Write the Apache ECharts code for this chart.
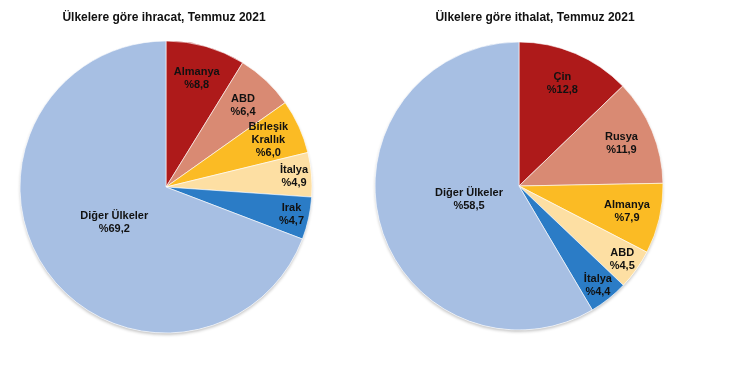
<!DOCTYPE html>
<html>
<head>
<meta charset="utf-8">
<script src="https://cdn.jsdelivr.net/npm/echarts@6/dist/echarts.min.js"></script>
<style>
    html, body {margin: 0; padding: 0; background: #fff;}
    #chart {width: 730px; height: 378px;}
</style>
</head>
<body>
<div id="chart"></div>
<script>
// ihracat (export) shares, July 2021
var exportNames = ['Almanya', 'ABD', 'Birleşik\nKrallık', 'İtalya', 'Irak', 'Diğer Ülkeler'];
var exportValues = [8.8, 6.4, 6.0, 4.9, 4.7, 69.2];
var exportColors = ['#ae1a1a', '#d98a73', '#fbbb24', '#fddfa3', '#2b7cc6', '#a7bfe3'];

// ithalat (import) shares, July 2021
var importNames = ['Çin', 'Rusya', 'Almanya', 'ABD', 'İtalya', 'Diğer Ülkeler'];
var importValues = [12.8, 11.9, 7.9, 4.5, 4.4, 58.5];
var importColors = ['#ae1a1a', '#d98a73', '#fbbb24', '#fddfa3', '#2b7cc6', '#a7bfe3'];

var labelFont = {
    color: '#111',
    fontFamily: 'Liberation Sans, Arial, sans-serif',
    fontWeight: 'bold',
    fontSize: 11,
    lineHeight: 13
};

function fmt(p) {
    return p.name + '\n%' + p.value.toFixed(1).replace('.', ',');
}

// invisible pie whose outer edge is where the labels go
function labelLayer(names, values, center, r, pick) {
    return {
        type: 'pie',
        center: center,
        radius: [0, r],
        startAngle: 90,
        clockwise: true,
        avoidLabelOverlap: false,
        silent: true,
        itemStyle: {color: 'transparent'},
        label: Object.assign({
            show: true, position: 'outside', alignTo: 'none',
            distanceToLabelLine: 0, formatter: fmt
        }, labelFont),
        labelLine: {show: false, length: 0, length2: 0},
        labelLayout: {align: 'center', verticalAlign: 'middle', hideOverlap: false},
        data: names.map(function (n, i) {
            return {name: n, value: values[i], label: {show: pick(i, values[i])}};
        })
    };
}

function makePie(names, values, colors, center, R, bigR) {
    var last = names.length - 1;
    var base = {
        type: 'pie',
        center: center,
        radius: [0, R],
        startAngle: 90,
        clockwise: true,
        silent: true,
        label: {show: false},
        labelLine: {show: false}
    };
    // soft drop shadow under the whole disc
    var shadow = Object.assign({}, base, {
        itemStyle: {
            color: '#fff',
            shadowColor: 'rgba(0,0,0,0.22)',
            shadowBlur: 3,
            shadowOffsetY: 2
        },
        data: values.map(function (v) { return {value: v}; })
    });
    var pie = Object.assign({}, base, {
        itemStyle: {borderColor: '#fff', borderWidth: 0.6},
        data: names.map(function (n, i) {
            return {name: n, value: values[i], itemStyle: {color: colors[i]}};
        })
    });
    return [
        shadow,
        pie,
        // wider slices keep their label a bit further in, narrow ones near the rim
        labelLayer(names, values, center, R * 0.77, function (i, v) { return i !== last && v >= 5.5; }),
        labelLayer(names, values, center, R * 0.88, function (i, v) { return i !== last && v < 5.5; }),
        labelLayer(names, values, center, bigR, function (i) { return i === last; })
    ];
}

var titleStyle = {
    color: '#111',
    fontFamily: 'Liberation Sans, Arial, sans-serif',
    fontWeight: 'bold',
    fontSize: 12
};

echarts.init(document.getElementById('chart')).setOption({
    animation: false,
    title: [
        {text: 'Ülkelere göre ihracat, Temmuz 2021', left: 159, top: 7, textAlign: 'center', textStyle: titleStyle},
        {text: 'Ülkelere göre ithalat, Temmuz 2021', left: 530, top: 7, textAlign: 'center', textStyle: titleStyle}
    ],
    series: []
        .concat(makePie(exportNames, exportValues, exportColors, [166, 187], 146, 146 * 0.43))
        .concat(makePie(importNames, importValues, importColors, [519, 186], 144, 144 * 0.36))
});
</script>
</body>
</html>
